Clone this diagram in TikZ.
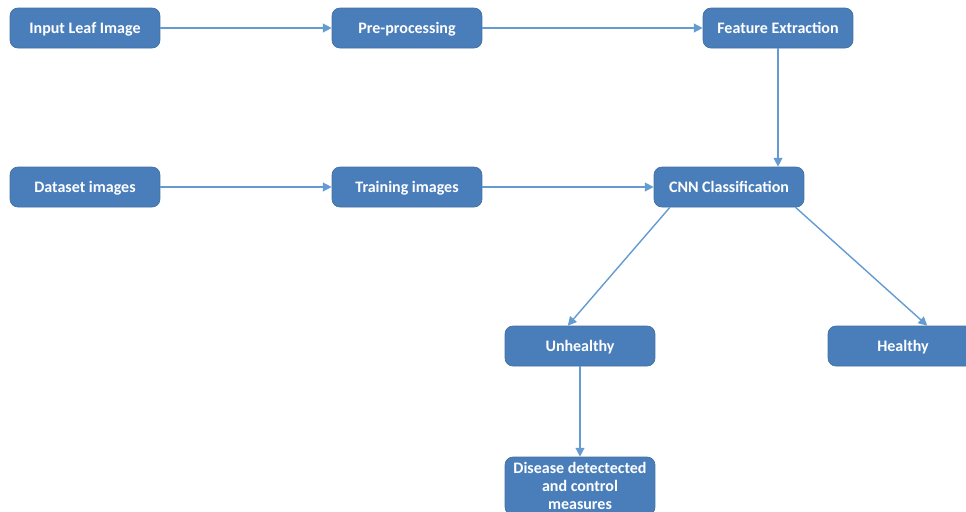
\documentclass[tikz,border=0pt]{standalone}
\usepackage{xcolor}
\usepackage{fontspec}
\setmainfont{Carlito}
\usepackage{tikz}
\usetikzlibrary{arrows.meta}
\definecolor{boxblue}{RGB}{74,126,187}
\definecolor{boxedge}{RGB}{65,113,160}
\definecolor{linkblue}{RGB}{100,155,210}
\tikzset{stagebox/.style={draw=boxedge, fill=boxblue, rounded corners=0.16cm, minimum width=3cm, minimum height=0.8cm, text=white, align=center, inner sep=1pt, text depth=0pt, font=\fontsize{9.1}{10.2}\selectfont\bfseries}}
\tikzset{link/.style={linkblue, line width=0.8pt, -{Triangle[width=5pt,length=5pt]}}}

\begin{document}
\begin{tikzpicture}[x=0.02cm, y=-0.02cm]
\useasboundingbox (0,0) rectangle (966,511);
\clip (0,0) rectangle (966,511);
\node[stagebox] (inp) at (85,28) {Input Leaf Image};
\node[stagebox] (pre) at (407,28) {Pre-processing};
\node[stagebox] (feat) at (778,28) {Feature Extraction};
\node[stagebox] (data) at (85,187) {Dataset images};
\node[stagebox] (train) at (407,187) {Training images};
\node[stagebox] (cnn) at (729,187) {CNN Classification};
\node[stagebox] (unh) at (580,346) {Unhealthy};
\node[stagebox] (hea) at (903,346) {Healthy};
\node[stagebox, minimum height=1.16cm] (dis) at (580,486) {Disease detectected\\and control\\measures};
\draw[link] (inp) -- (pre);
\draw[link] (pre) -- (feat);
\draw[link] (data) -- (train);
\draw[link] (train) -- (cnn);
\draw[link] (feat) -- (cnn.north -| feat);
\draw[link] (cnn.199) -- (unh.121);
\draw[link] (cnn.343) -- (hea.40);
\draw[link] (unh) -- (dis);
\end{tikzpicture}
\end{document}
